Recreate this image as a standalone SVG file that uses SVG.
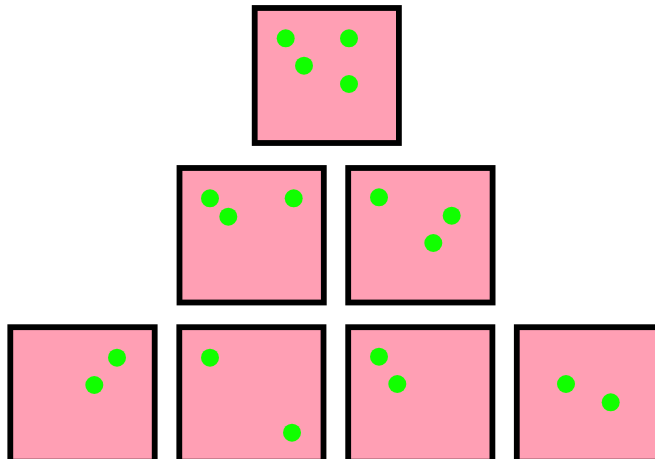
<svg xmlns="http://www.w3.org/2000/svg" width="655" height="459" viewBox="0 0 655 459">
<style>
.box{fill:#ff9fb4;stroke:#000;stroke-width:5.8}
.dot{fill:#11ff00}
</style>
<rect width="655" height="459" fill="#fff"/>
<g id="n1"><rect class="box" x="254.7" y="8" width="144.2" height="135"/>
<circle class="dot" cx="285.7" cy="38.3" r="9"/><circle class="dot" cx="349" cy="38.3" r="9"/><circle class="dot" cx="304" cy="65.7" r="9"/><circle class="dot" cx="349" cy="84" r="9"/></g>
<g id="n2"><rect class="box" x="179.5" y="168" width="144.3" height="134.5"/>
<circle class="dot" cx="210" cy="198.3" r="9"/><circle class="dot" cx="228.3" cy="216.7" r="9"/><circle class="dot" cx="293.7" cy="198.3" r="9"/></g>
<g id="n3"><rect class="box" x="348.2" y="168" width="144.4" height="134.5"/>
<circle class="dot" cx="379" cy="197.3" r="9"/><circle class="dot" cx="451.7" cy="215.7" r="9"/><circle class="dot" cx="433.3" cy="243" r="9"/></g>
<g id="n4"><rect class="box" x="10.3" y="327.2" width="144.4" height="134.5"/>
<circle class="dot" cx="117" cy="357.7" r="9"/><circle class="dot" cx="94.3" cy="385" r="9"/></g>
<g id="n5"><rect class="box" x="179.3" y="327.2" width="144.2" height="134.5"/>
<circle class="dot" cx="210" cy="357.7" r="9"/><circle class="dot" cx="292" cy="432.7" r="9"/></g>
<g id="n6"><rect class="box" x="348.2" y="327.2" width="144.2" height="134.5"/>
<circle class="dot" cx="379" cy="356.7" r="9"/><circle class="dot" cx="397.3" cy="384" r="9"/></g>
<g id="n7"><rect class="box" x="516.8" y="327.2" width="144.4" height="134.5"/>
<circle class="dot" cx="566" cy="384" r="9"/><circle class="dot" cx="610.7" cy="402.3" r="9"/></g>
<g id="connectors"/>
</svg>
